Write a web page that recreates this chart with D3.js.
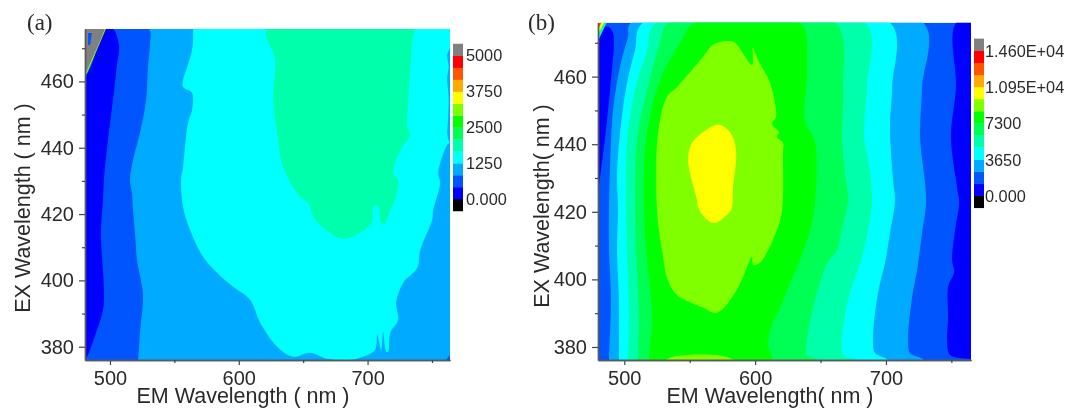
<!DOCTYPE html>
<html>
<head>
<meta charset="utf-8">
<script src="https://cdnjs.cloudflare.com/ajax/libs/d3/7.8.5/d3.min.js"></script>
<style>
  body { margin: 0; background: #fff; }
  svg { display: block; filter: blur(0.4px); }
  text { font-family: "Liberation Sans", Arial, sans-serif; fill: #2a2a2a; }
</style>
</head>
<body>
<script>
// colour steps of both colour bars, bottom to top
const palette = ["#000000", "#0000ff", "#0055ff", "#00aaff", "#00ffff", "#00ffaa", "#00ff55",
  "#00ff00", "#80ff00", "#ffff00", "#ffaa00", "#ff5500", "#ff0000", "#808080"];

const majorEm = [500, 600, 700];
const minorEm = [550, 650, 750];
const majorEx = [380, 400, 420, 440, 460];
const minorEx = [390, 410, 430, 450, 470];

// (a) contour edges, [EM nm, EX nm]
// the last points of some edges lie outside the frame, the clip cuts them off
const aBlue = [[480.6, 461.9], [496, 475.8], [502.3, 475.8], [507, 471], [505.4, 464.9], [502.3, 454.4], [498.4, 442.3], [495.3, 430.3], [494.6, 424.3], [493, 414.3], [495.3, 397.2], [494.6, 391.1], [489.1, 384.2], [484.5, 379.1], [480.6, 376], [465, 370], [465, 465]];
const aMidBlue = [[465, 490], [530.3, 475.8], [531.1, 471.6], [529.5, 464.3], [528, 454.4], [523.3, 444.5], [517.9, 436.3], [515.5, 430.3], [517.1, 426.4], [517.9, 421.3], [519.4, 414.3], [521, 406.2], [524.9, 398.1], [525.6, 394.2], [523.3, 384.2], [521.8, 376], [518, 362], [465, 362]];
const aCyan = [[564.5, 475.8], [563.7, 469.5], [559.8, 464.3], [556.7, 460.4], [556.7, 458.3], [563.7, 456.5], [563.7, 451.4], [560.6, 447.5], [556.7, 434.2], [555.2, 430.3], [556.7, 422.2], [562.2, 415.2], [572.3, 407.1], [583.1, 402.3], [595.6, 398.1], [608.8, 394.2], [616.6, 387.2], [629.8, 380], [642.2, 377], [655.4, 378.2], [668.6, 376.4], [684.1, 376], [696.6, 377], [705.9, 379.1], [707.5, 383.6], [710.6, 379.1], [712.1, 384.5], [714.5, 378.5], [716, 378.5], [717.6, 384.2], [723.8, 388.1], [722.2, 393.3], [727.7, 399.3], [738.6, 403.8], [740.9, 409.2], [750.2, 418.3], [751, 421.3], [756.4, 429.4], [754.9, 432.4], [761.8, 440.8], [764, 441.4], [775, 441.4], [785, 490], [560, 490]];
const aGreen = [[622, 475.8], [628.2, 466.4], [626.7, 454.4], [629.8, 444.5], [634.4, 434.2], [647.6, 425.2], [653.8, 423.4], [659.3, 418.3], [670.9, 414.3], [681, 412.5], [694.3, 414.3], [703.6, 417.6], [704.4, 421.9], [708.2, 422.5], [710.6, 417.3], [713.7, 417.3], [717.6, 421.3], [721.4, 424.3], [723.8, 430.3], [719.9, 432.4], [726.9, 440.2], [733.1, 443.9], [730.8, 446.3], [731.5, 453.5], [733.1, 463.4], [734.7, 472.5], [735.5, 475.8]];
const aEdgeNotch = [[770, 476], [764, 470], [761.8, 468], [763, 464.5], [761.8, 461], [763, 455], [762.4, 448], [762, 444], [764, 441.4], [770, 440]];
const aCornerBlue = [[761, 376], [764, 377.5], [764, 376]];
const aCornerRim = [[480.6, 461], [496.8, 475.8], [480.6, 475.8]];
const aCorner = [[480.6, 461.9], [484.5, 465.5], [492, 471.9], [496, 475.8], [480.6, 475.8]];
const aSpot = [[483, 474.6], [486, 474.6], [484.6, 471], [483, 471]];

// (b) contour edges, left side of each band then right side, top to bottom
const bLeft2 = [[505.1, 475.9], [502.8, 471.7], [496.7, 462.9], [491.4, 450.1], [489.1, 433.3], [488.3, 421.4], [488.3, 408.7], [489.8, 393.9], [488.3, 376.2], [488.3, 366]];
const bLeft3 = [[514.3, 475.9], [508.2, 467.9], [502.1, 458.1], [496.7, 443.3], [494.4, 430.3], [495.2, 421.4], [494.4, 408.7], [495.9, 393.9], [495.9, 376.2], [495.9, 366]];
const bLeft4 = [[524.2, 475.9], [517.4, 467.9], [508.2, 456], [502.8, 443.3], [501.3, 430.3], [501.3, 421.4], [502.1, 408.7], [503.6, 388.9], [502.8, 376.2], [502.8, 366]];
const bLeft5 = [[533.4, 475.9], [527.3, 470], [517.4, 456], [509.7, 441.3], [508.2, 421.4], [508.9, 408.7], [511.2, 388.9], [510.5, 376.2], [510.5, 366]];
const bLeft6 = [[554, 475.9], [542.6, 470], [527.3, 459], [519.6, 448.1], [515.8, 438.3], [515.1, 421.4], [516.6, 408.7], [521.2, 388.9], [518.9, 376.2], [518.9, 366]];
const bRight1 = [[753.5, 475.9], [753.5, 456.9], [749.7, 442.1], [754.3, 427.3], [755.9, 422.6], [752.8, 414.6], [750.5, 405.7], [752.1, 402.2], [747.5, 397.8], [747.5, 388.9], [746.7, 381.5], [749, 377.6], [764.3, 376.4], [775, 376], [780, 480]];
const bRight2 = [[728.4, 475.9], [727.6, 456.9], [726.1, 442.1], [730.7, 423.5], [727.6, 413.7], [723.8, 402.8], [720, 394.8], [716.9, 382.1], [718.4, 378.2], [728.4, 376.2]];
const bRight3 = [[703.1, 475.9], [704.7, 456.9], [703.1, 445.1], [705.4, 429.4], [706.9, 423.5], [703.1, 413.7], [699.3, 404.9], [693.9, 396], [690.1, 382.1], [691.7, 378.2], [700.8, 376.2]];
const bRight4 = [[684, 475.9], [685.5, 456.9], [683.2, 442.1], [685.5, 437.4], [689.4, 423.5], [686.3, 414.6], [681.7, 406.6], [671, 393.9], [666.4, 382.1], [667.2, 377.6], [676.4, 376.2]];
const bRight5 = [[661.1, 475.9], [667.2, 456.9], [666.4, 442.1], [668.7, 431.5], [671, 423.5], [666.4, 415.2], [662.6, 408.7], [655.7, 405.2], [647.3, 396], [639.7, 382.1], [639.7, 377.6], [647.3, 376.2]];
const bRight6 = [[634.3, 475.9], [639.7, 462], [638.1, 447.2], [645.8, 440.4], [644.3, 418.5], [634.3, 405.7], [626.7, 398.9], [619, 391.5], [612.9, 386.5], [609.9, 380.6], [612.2, 376.2]];
const bLime = [[578.5, 470.5], [584.6, 470], [597.6, 463.4], [598.4, 468.5], [602.2, 464.9], [611.4, 458.1], [616, 448.1], [612.9, 446], [618.3, 443.6], [616.7, 442.1], [621.3, 440.4], [621.3, 437.4], [620.6, 420.5], [616.7, 414.6], [603.7, 404.9], [598.4, 404.3], [597.6, 406.6], [586.1, 396.9], [570.8, 390.1], [559.3, 391.8], [540.2, 395.4], [533.3, 399.8], [528.8, 408.7], [525, 420.5], [525.8, 443.3], [532.6, 454], [540.2, 456.9], [560.1, 465.8], [567.8, 469.4]];
const bYellow = [[573.2, 445.7], [580.8, 443.6], [585.4, 438.3], [583.1, 427.3], [581.6, 420.5], [575.5, 418.2], [569.3, 416.7], [561.7, 418.2], [556.4, 421.4], [555.6, 423.5], [548.7, 435.3], [551.8, 440.4], [559.3, 443.3], [567.8, 445.4]];
const bLimeFoot = [[532.4, 376.2], [540.2, 377.3], [570.8, 377.6], [583.1, 376.2]];
const bBlue = [[479.9, 472.3], [483.7, 474.7], [488.3, 474.7], [491.4, 472.9], [492.1, 470], [489.8, 459], [486, 444.2], [482.2, 432.4], [479.9, 426.5]];
const bCorner1 = [[479.9, 470.5], [486.5, 475.9], [479.9, 475.9]];
const bCorner2 = [[479.9, 472.5], [484.5, 475.9], [479.9, 475.9]];
const bCorner3 = [[479.9, 474], [482.5, 475.9], [479.9, 475.9]];

const aTicks = [0, 1250, 2500, 3750, 5000];
const aTickLabels = ["0.000", "1250", "2500", "3750", "5000"];
const bTicks = [0, 3650, 7300, 10950, 14600];
const bTickLabels = ["0.000", "3650", "7300", "1.095E+04", "1.460E+04"];

const svg = d3.select("body").append("svg").attr("width", 1065).attr("height", 408);

function band(left, right) {
  return left.concat(right.slice().reverse());
}

function drawPanel(p) {
  const x = d3.scaleLinear().domain(p.emDomain).range(p.xRange);
  const y = d3.scaleLinear().domain(p.exDomain).range(p.yRange);
  const smooth = d3.line().x(d => x(d[0])).y(d => y(d[1])).curve(d3.curveCatmullRomClosed.alpha(0.5));
  const straight = d3.line().x(d => x(d[0])).y(d => y(d[1]));
  const g = svg.append("g");

  svg.append("clipPath")
    .attr("id", "clip-" + p.id)
    .append("rect")
    .attr("x", p.xRange[0])
    .attr("y", p.yRange[1])
    .attr("width", p.xRange[1] - p.xRange[0])
    .attr("height", p.yRange[0] - p.yRange[1]);

  const plot = g.append("g").attr("clip-path", `url(#clip-${p.id})`);

  plot.append("rect")
    .attr("x", p.xRange[0])
    .attr("y", p.yRange[1])
    .attr("width", p.xRange[1] - p.xRange[0])
    .attr("height", p.yRange[0] - p.yRange[1])
    .attr("fill", p.base);

  plot.selectAll("path.band")
    .data(p.bands)
    .join("path")
    .attr("class", "band")
    .attr("d", d => d.straight ? straight(d.points) + "Z" : smooth(d.points))
    .attr("fill", d => d.color);

  // axes, long ticks with labels and short ticks without
  const bottom = g.append("g").attr("transform", `translate(0,${p.yRange[0]})`);
  bottom.call(d3.axisBottom(x).tickValues(majorEm).tickSize(5).tickSizeOuter(0).tickPadding(6).tickFormat(d3.format("d")));
  const bottomMinor = g.append("g").attr("transform", `translate(0,${p.yRange[0]})`);
  bottomMinor.call(d3.axisBottom(x).tickValues(minorEm).tickSize(3).tickSizeOuter(0).tickFormat(""));
  const left = g.append("g").attr("transform", `translate(${p.xRange[0]},0)`);
  left.call(d3.axisLeft(y).tickValues(majorEx).tickSize(6).tickSizeOuter(0).tickPadding(5).tickFormat(d3.format("d")));
  const leftMinor = g.append("g").attr("transform", `translate(${p.xRange[0]},0)`);
  leftMinor.call(d3.axisLeft(y).tickValues(minorEx).tickSize(3).tickSizeOuter(0).tickFormat(""));

  g.selectAll(".domain").attr("stroke", "#5a5a5a").attr("stroke-width", 1.4);
  g.selectAll(".tick line").attr("stroke", "#444").attr("stroke-width", 1.2);
  g.selectAll(".tick text")
    .attr("fill", "#2a2a2a")
    .style("font-family", '"Liberation Sans", Arial, sans-serif')
    .style("font-size", "20px");

  g.append("text")
    .attr("x", p.emTitleX)
    .attr("y", 403)
    .attr("text-anchor", "middle")
    .attr("font-size", "21.5px")
    .text(p.emTitle);

  g.append("text")
    .attr("transform", `translate(${p.exTitleX},${p.exTitleY}) rotate(-90)`)
    .attr("text-anchor", "middle")
    .attr("font-size", "21.5px")
    .text(p.exTitle);

  g.append("text")
    .attr("x", p.tagX)
    .attr("y", 30)
    .attr("font-size", "23px")
    .style("font-family", '"Liberation Serif", serif')
    .text(p.tag);

  // colour bar, one step of palette per cell
  const step = p.ticks[p.ticks.length - 1] / 12;
  const c = d3.scaleLinear().domain(p.barDomain).range(p.barRange);
  g.selectAll("rect.cell")
    .data(palette)
    .join("rect")
    .attr("class", "cell")
    .attr("x", p.barX)
    .attr("y", (d, i) => c(i * step))
    .attr("width", 10)
    .attr("height", (d, i) => c((i - 1) * step) - c(i * step) + 0.3)
    .attr("fill", d => d);

  g.selectAll("text.bar")
    .data(p.ticks)
    .join("text")
    .attr("class", "bar")
    .attr("x", p.barX + p.labelGap)
    .attr("y", d => c(d) + p.labelShift)
    .attr("dominant-baseline", "middle")
    .attr("font-size", "16.3px")
    .text((d, i) => p.tickLabels[i]);
}

drawPanel({
  id: "a",
  emDomain: [480.6, 764],
  exDomain: [376, 475.8],
  xRange: [85, 450],
  yRange: [360, 29],
  base: "#00aaff",
  bands: [
    { points: aMidBlue, color: "#0055ff" },
    { points: aCyan, color: "#00ffff" },
    { points: aGreen, color: "#00ffaa" },
    { points: aEdgeNotch, color: "#00aaff" },
    { points: aCornerBlue, color: "#0055ff", straight: true },
    { points: aBlue, color: "#0000ff" },
    { points: aCornerRim, color: "#80ff00", straight: true },
    { points: aCorner, color: "#808080", straight: true },
    { points: aSpot, color: "#0055ff", straight: true }
  ],
  emTitle: "EM Wavelength ( nm )",
  emTitleX: 243,
  exTitle: "EX Wavelength ( nm )",
  exTitleX: 30,
  exTitleY: 208,
  tag: "(a)",
  tagX: 27,
  ticks: aTicks,
  tickLabels: aTickLabels,
  barDomain: [0, 5000],
  barRange: [199, 55.7],
  barX: 453,
  labelGap: 13,
  labelShift: 1.5
});

drawPanel({
  id: "b",
  emDomain: [479.9, 765],
  exDomain: [376.15, 475.95],
  xRange: [598, 971],
  yRange: [360, 22.7],
  base: "#0055ff",
  bands: [
    { points: bRight1, color: "#0000ff" },
    { points: band(bLeft2, bRight2), color: "#00aaff" },
    { points: band(bLeft3, bRight3), color: "#00ffff" },
    { points: band(bLeft4, bRight4), color: "#00ffaa" },
    { points: band(bLeft5, bRight5), color: "#00ff55" },
    { points: band(bLeft6, bRight6), color: "#00ff00" },
    { points: bLime, color: "#80ff00" },
    { points: bYellow, color: "#ffff00" },
    { points: bLimeFoot, color: "#80ff00" },
    { points: bBlue, color: "#0000ff" },
    { points: bCorner1, color: "#00ffaa", straight: true },
    { points: bCorner2, color: "#ffff00", straight: true },
    { points: bCorner3, color: "#ff5500", straight: true }
  ],
  emTitle: "EM Wavelength( nm )",
  emTitleX: 770,
  exTitle: "EX Wavelength( nm )",
  exTitleX: 549,
  exTitleY: 206,
  tag: "(b)",
  tagX: 528,
  ticks: bTicks,
  tickLabels: bTickLabels,
  barDomain: [0, 14600],
  barRange: [195.7, 50.7],
  barX: 974,
  labelGap: 11,
  labelShift: 2
});
</script>
</body>
</html>
